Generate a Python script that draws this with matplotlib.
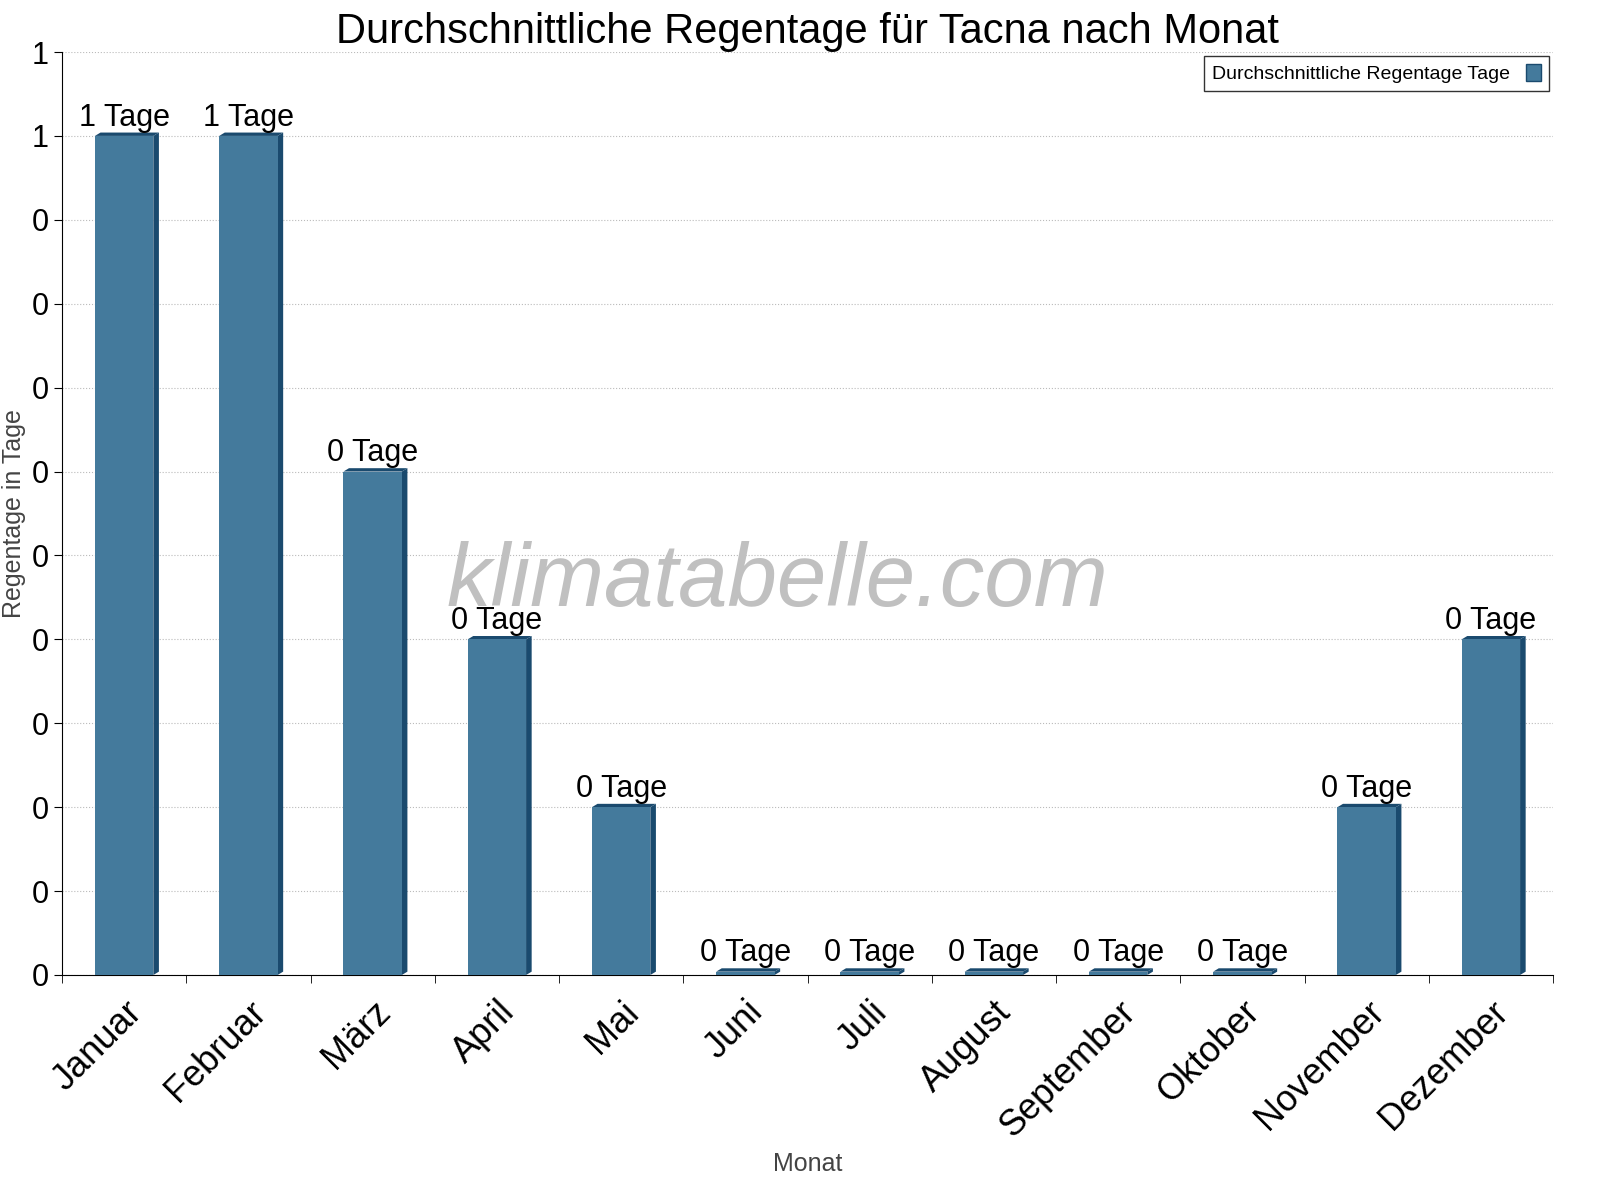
import matplotlib.pyplot as plt
import matplotlib.patches as mpatches
import numpy as np

plt.rcParams['font.family'] = ['Liberation Sans', 'DejaVu Sans']

months = ["Januar", "Februar", "März", "April", "Mai", "Juni", "Juli",
          "August", "September", "Oktober", "November", "Dezember"]
rain_days = [1.0, 1.0, 0.6, 0.4, 0.2, 0.0, 0.0, 0.0, 0.0, 0.0, 0.2, 0.4]

face = "#447a9c"
side = "#1a4a6e"

fig = plt.figure(figsize=(16, 12), dpi=100)
ax = fig.add_axes([62 / 1600, 225 / 1200, (1553 - 62) / 1600, (975 - 52) / 1200])

x = np.arange(len(months))
w = 0.47
d = 0.045
for xi, v in zip(x, rain_days):
    h = max(v, 0.004)
    # side and top faces for the pseudo-3D look
    ax.fill([xi + w / 2, xi + w / 2 + d, xi + w / 2 + d, xi + w / 2],
            [0, 0.004, h + 0.004, h], color=side, zorder=3, lw=0)
    ax.fill([xi - w / 2, xi - w / 2 + d, xi + w / 2 + d, xi + w / 2],
            [h, h + 0.004, h + 0.004, h], color=side, zorder=3, lw=0)
    ax.bar(xi, h, width=w, color=face, zorder=3)
    ax.text(xi, h + 0.004, f"{int(v)} Tage", ha="center", va="bottom", fontsize=22, zorder=5)

ax.set_xlim(-0.5, 11.5)
ax.set_ylim(0, 1.1)
yt = np.arange(0, 1.11, 0.1)
ax.set_yticks(yt)
ax.set_yticklabels([str(int(t + 1e-9)) for t in yt], fontsize=22)
ax.set_xticks(x)
ax.set_xticklabels(months, rotation=45, ha="right", rotation_mode="anchor", fontsize=26)
ax.set_xticks(np.arange(-0.5, 11.6, 1), minor=True)
ax.tick_params(axis="x", which="major", length=0, pad=14)
ax.tick_params(axis="x", which="minor", length=6, direction="out")
ax.tick_params(axis="y", length=6, direction="out")
ax.grid(axis="y", linestyle=":", color="#bbbbbb", zorder=0)
for s in ["top", "right"]:
    ax.spines[s].set_visible(False)

ax.set_title("Durchschnittliche Regentage für Tacna nach Monat", fontsize=30, pad=6)
ax.set_xlabel("Monat", fontsize=18, color="#444444", labelpad=6)
ax.set_ylabel("Regentage in Tage", fontsize=18, color="#444444")
ax.text(0.48, 0.425, "klimatabelle.com", transform=ax.transAxes, fontsize=64,
        color="#c0c0c0", style="italic", ha="center", va="center", zorder=4)
handle = mpatches.Patch(facecolor=face, edgecolor=side, label="Durchschnittliche Regentage Tage")
ax.legend(handles=[handle], loc="upper right", fontsize=14, fancybox=False, edgecolor="black",
          markerfirst=False, handlelength=0.8, handleheight=1.0, borderaxespad=0.2)

fig.savefig("out.png")
